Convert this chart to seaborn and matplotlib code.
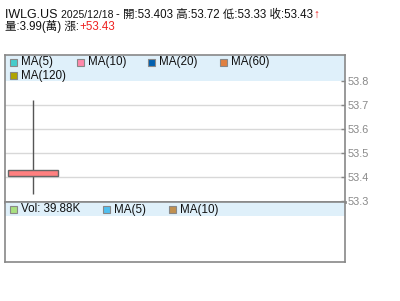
import matplotlib
matplotlib.use("Agg")
import matplotlib.pyplot as plt
import seaborn as sns
import pandas as pd
from matplotlib.patches import Rectangle

# ---- data ----
symbol = "IWLG.US"
date = "2025/12/18"
open_p = [53.403]
high_p = [53.72]
low_p = [53.33]
close_p = [53.43]
volume_wan = 3.99
change = "+53.43"
vol_label = "Vol: 39.88K"
yticks = [53.3, 53.4, 53.5, 53.6, 53.7, 53.8]
ma_labels = ["MA(5)", "MA(10)", "MA(20)", "MA(60)", "MA(120)"]
ma_colors = ["#44cccc", "#ff88aa", "#0060b0", "#e08040", "#b0a400"]
vol_ma_labels = ["MA(5)", "MA(10)"]
vol_ma_colors = ["#50c0f0", "#c09050"]

sns.set_theme(style="white")
FAM = ["Liberation Sans", "Noto Sans CJK TC", "DejaVu Sans"]
plt.rcParams["font.family"] = FAM

W, H = 400, 301
fig = plt.figure(figsize=(W / 100, H / 100), dpi=100)

def fx(px):
    return px / W

def fy(py):
    return 1 - py / H

ax = fig.add_axes([fx(5), fy(202), fx(340), fy(55) - fy(202)])
axv = fig.add_axes([fx(5), fy(262), fx(340), fy(202) - fy(262)])

df = pd.DataFrame({"i": range(len(open_p)), "open": open_p, "high": high_p,
                   "low": low_p, "close": close_p})
df["lo_body"] = df[["open", "close"]].min(axis=1)
df["hi_body"] = df[["open", "close"]].max(axis=1)

ymin = 53.3 - 1 / 240
ymax = ymin + 147 / 240
ax.set_ylim(ymin, ymax)
ax.set_xlim(-0.45, 5.0)

# gridlines
for t in yticks[1:-1]:
    ax.axhline(t, color="#d8d8d8", lw=1, zorder=0)

# legend band
ax.axhspan(53.8, ymax, color="#dff0fa", zorder=0.5, lw=0)

# wick
ax.vlines(df["i"], df["low"], df["high"], color="#555555", lw=1, zorder=2)
# body
ax.bar(df["i"], df["hi_body"] - df["lo_body"], bottom=df["lo_body"], width=0.8,
       color="#ff8080", edgecolor="#666666", linewidth=1, zorder=3)

ax.yaxis.tick_right()
ax.set_yticks(yticks)
ax.set_yticklabels([f"{t:.1f}" for t in yticks])
ax.tick_params(axis="y", direction="in", length=3, color="#888888", width=1,
               labelsize=7.8, labelcolor="#888888", pad=2, right=True, left=False)
ax.set_xticks([])
for s in ax.spines.values():
    s.set_color("#888888")
    s.set_linewidth(1.2)
ax.spines["bottom"].set_linewidth(2)

# volume panel
axv.set_xlim(-0.45, 5.0)
axv.set_ylim(0, 1)
axv.axhspan(1 - 14 / 60, 1, color="#dff0fa", lw=0, zorder=0)
axv.set_xticks([])
axv.set_yticks([])
for s in axv.spines.values():
    s.set_color("#888888")
    s.set_linewidth(1.2)

# legends drawn in figure pixel coordinates
def legend_item(xp, yp, color, label):
    fig.patches.append(Rectangle((fx(xp), fy(yp + 7)), fx(7), fy(yp) - fy(yp + 7),
                                 transform=fig.transFigure, facecolor=color,
                                 edgecolor="#888888", lw=0.8, zorder=10))
    fig.text(fx(xp + 11), fy(yp + 3.5), label, fontsize=8.4, va="center",
             ha="left", color="#111111", family=FAM, zorder=11)

ma_pos = [(10, 59), (77, 59), (148, 59), (220, 59), (10, 72)]
for (xp, yp), c, l in zip(ma_pos, ma_colors, ma_labels):
    legend_item(xp, yp, c, l)

vol_pos = [(10, 206), (103, 206), (169, 206)]
for (xp, yp), c, l in zip(vol_pos, ["#a8e080"] + vol_ma_colors, [vol_label] + vol_ma_labels):
    legend_item(xp, yp, c, l)

# header texts
fig.canvas.draw()
renderer = fig.canvas.get_renderer()

def chain(parts, xp, yp):
    x = xp
    for txt, size, color in parts:
        t = fig.text(fx(x), fy(yp), txt, fontsize=size, color=color, va="baseline",
                     ha="left", family=FAM)
        bb = t.get_window_extent(renderer)
        x += bb.width

line1 = [(symbol + " ", 9, "#111111"), (date + " ", 7.5, "#111111"),
         (f"- 開:{open_p[0]} 高:{high_p[0]} 低:{low_p[0]} 收:{close_p[0]}", 8.3, "#111111"),
         ("↑", 8.5, "#ee2222")]
chain(line1, 5, 18)
line2 = [(f"量:{volume_wan}(萬) 漲:", 8.3, "#111111"), (change, 8.3, "#ee2222")]
chain(line2, 5, 30)

fig.savefig("out.png", dpi=100)
